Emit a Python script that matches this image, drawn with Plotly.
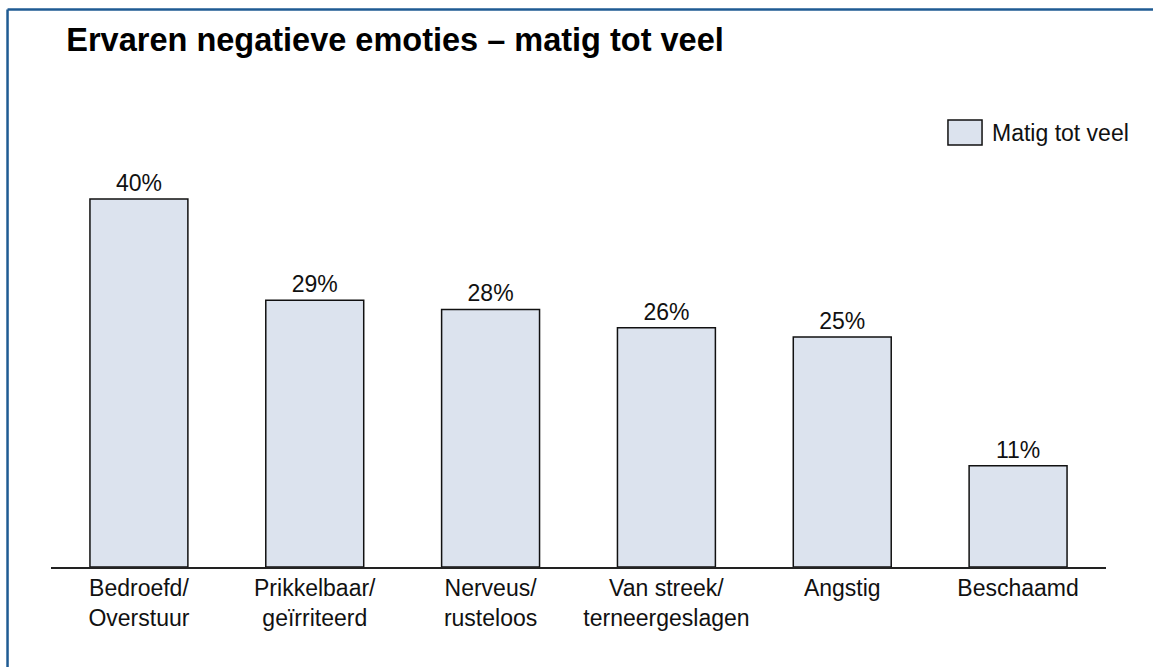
import plotly.graph_objects as go

# Share of respondents reporting each negative emotion moderately to often
categories = [
    "Bedroefd/<br>Overstuur",
    "Prikkelbaar/<br>geïrriteerd",
    "Nerveus/<br>rusteloos",
    "Van streek/<br>terneergeslagen",
    "Angstig",
    "Beschaamd",
]
values = [40, 29, 28, 26, 25, 11]
series_name = "Matig tot veel"
title_text = "Ervaren negatieve emoties – matig tot veel"

BAR_FILL = "#dce3ee"
BAR_LINE = "#111111"
FRAME_BLUE = "#1f5b93"
FONT = "Liberation Sans, Arial, Helvetica, sans-serif"
TEXT_SIZE = 23

fig = go.Figure(
    go.Bar(
        x=categories,
        y=values,
        name=series_name,
        marker=dict(color=BAR_FILL, line=dict(color=BAR_LINE, width=1.5)),
        text=[f"{v}%" for v in values],
        textposition="outside",
        textfont=dict(size=TEXT_SIZE, color="#111111", family=FONT),
        cliponaxis=False,
        showlegend=False,
    )
)

# Outer frame: only the top and left edges fall inside the page
fig.add_shape(type="line", xref="paper", yref="paper",
              x0=-0.0412, x1=1.2, y0=1.212, y1=1.212,
              line=dict(color=FRAME_BLUE, width=2.5))
fig.add_shape(type="line", xref="paper", yref="paper",
              x0=-0.0412, x1=-0.0412, y0=1.212, y1=-0.3,
              line=dict(color=FRAME_BLUE, width=2.5))

# Legend key and label
fig.add_shape(type="rect", xref="paper", yref="paper",
              x0=0.8502, x1=0.8825, y0=0.9174, y1=0.9717,
              fillcolor=BAR_FILL, line=dict(color=BAR_LINE, width=1.5))
fig.add_annotation(text=series_name, xref="paper", yref="paper",
                   x=0.890, y=0.9445, xanchor="left", yanchor="middle",
                   showarrow=False,
                   font=dict(size=TEXT_SIZE, color="#111111", family=FONT))

fig.update_layout(
    width=1153,
    height=667,
    margin=dict(l=51, r=47, t=107, b=100),
    paper_bgcolor="white",
    plot_bgcolor="white",
    bargap=0.443,
    font=dict(family=FONT, size=TEXT_SIZE, color="#111111"),
    title=dict(
        text=f"<b>{title_text}</b>",
        xref="container", yref="container",
        x=0.0575, xanchor="left",
        y=0.941, yanchor="middle",
        font=dict(size=32.5, color="#000000", family=FONT),
    ),
    xaxis=dict(
        showline=True, linecolor="#222222", linewidth=1.5,
        ticks="", showgrid=False,
        tickfont=dict(size=TEXT_SIZE, color="#111111", family=FONT),
        range=[-0.5, 5.5],
    ),
    yaxis=dict(
        range=[0, 50], visible=False, showgrid=False, zeroline=False,
    ),
)

fig.write_html("out.html")
